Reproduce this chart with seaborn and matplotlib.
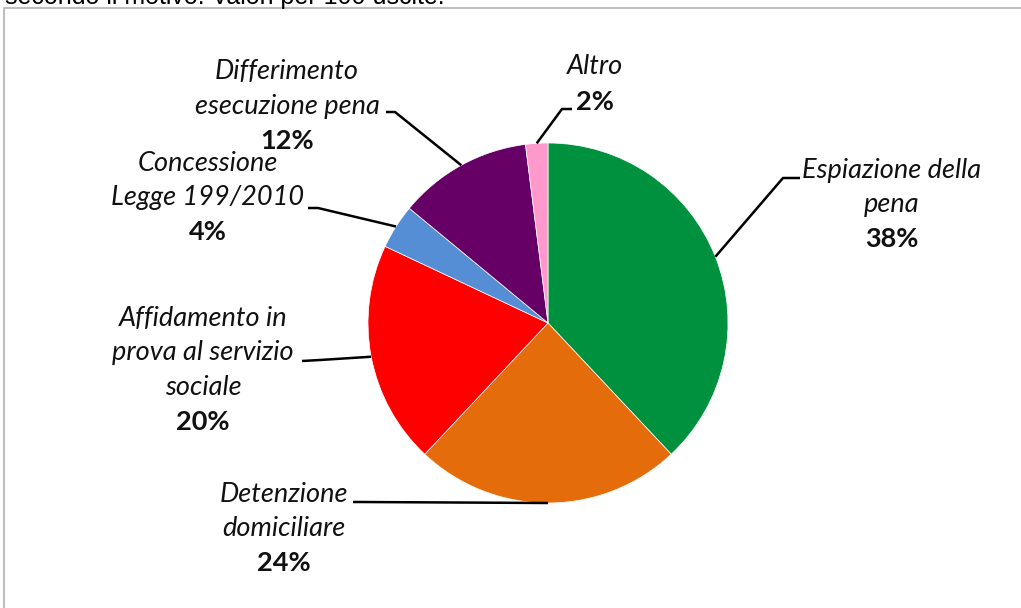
"""
Pie chart: uscite secondo il motivo (valori per 100 uscite)
"""

import numpy as np
import matplotlib
matplotlib.use('Agg')
import matplotlib.pyplot as plt
from matplotlib.patches import Rectangle
import seaborn as sns

sns.set_style('white')
plt.rcParams['font.family'] = ['Lato', 'DejaVu Sans']

# --- data (clockwise from 12 o'clock) ---
categories = ['Espiazione della\npena', 'Detenzione\ndomiciliare',
              'Affidamento in\nprova al servizio\nsociale',
              'Concessione\nLegge 199/2010', 'Differimento\nesecuzione pena',
              'Altro']
values = [38, 24, 20, 4, 12, 2]
pct_labels = ['38%', '24%', '20%', '4%', '12%', '2%']
colors = ['#00913F', '#E46C0A', '#FF0000', '#558ED5', '#660066', '#FF99CC']

# label layout in pixels: text centre x, first line y, leader start, elbow
label_x = [892, 284, 203, 208, 287, 595]
label_y0 = [170, 494, 318, 163, 72, 67]
leader_start = [(800, 178), (353, 502), (302, 361), (308, 208), (386, 112), (572, 109)]
leader_elbow = [(783, 178), (360, 502), (320, 360), (318, 208), (395, 112), (562, 109)]

W, H = 1021, 608
CX, CY, R = 548, 323, 180   # pie centre and radius in pixels
LINE = 34.5
FS = 19.5


def px(x, y):
    # pixel -> data coords (pie radius = 1)
    return (x - CX) / R, (CY - y) / R


fig = plt.figure(figsize=(W / 100, H / 100), dpi=100)
ax = fig.add_axes([0, 0, 1, 1])

wedges, _ = ax.pie(values, colors=colors, startangle=90, counterclock=False,
                   radius=1, center=(0, 0),
                   wedgeprops={'edgecolor': 'white', 'linewidth': 0.5})
ax.set_xlim(px(0, 0)[0], px(W, 0)[0])
ax.set_ylim(px(0, H)[1], px(0, 0)[1])
ax.set_aspect('auto')
ax.axis('off')

for i, w in enumerate(wedges):
    ang = np.deg2rad((w.theta1 + w.theta2) / 2)
    anchor = (np.cos(ang), np.sin(ang))
    s = px(*leader_start[i])
    e = px(*leader_elbow[i])
    ax.plot([s[0], e[0], anchor[0]], [s[1], e[1], anchor[1]],
            color='black', linewidth=1.8, solid_capstyle='butt')

    lines = categories[i].split('\n')
    for j, line in enumerate(lines):
        tx, ty = px(label_x[i], label_y0[i] + j * LINE)
        ax.text(tx, ty, line, ha='center', va='center', fontsize=FS,
                fontstyle='italic', color='#111111')
    tx, ty = px(label_x[i], label_y0[i] + len(lines) * LINE)
    ax.text(tx, ty, pct_labels[i], ha='center', va='center', fontsize=FS,
            fontweight='bold', color='#111111')

# chart frame (light grey, open at right/bottom like the crop)
fig.patches.append(Rectangle((3.5 / W, -0.1), 1.2, 1 - 7.5 / H + 0.1,
                             transform=fig.transFigure, fill=False,
                             edgecolor='#BFBFBF', linewidth=1.5))

# title line, cropped at the top of the image
fig.text(5 / W, 1 - 4 / H, 'secondo il motivo. Valori per 100 uscite.',
         ha='left', va='baseline', fontsize=18, family='Liberation Sans',
         color='black')

plt.savefig('out.png', dpi=100)
plt.close()
